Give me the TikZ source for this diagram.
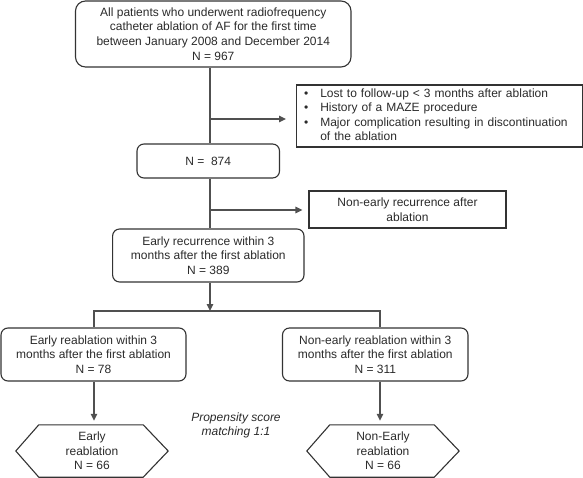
\documentclass[tikz,border=0pt]{standalone}
\usepackage{fontspec}
\setmainfont{Liberation Sans}
\usetikzlibrary{arrows.meta,calc}
\definecolor{txt}{HTML}{2A2A2A}
\definecolor{bd}{HTML}{333333}
\definecolor{ln}{HTML}{505050}
\begin{document}
\begin{tikzpicture}[x=1pt,y=-1pt,
  every node/.style={font=\fontsize{12}{14.6}\selectfont, text=txt},
  rbox/.style={draw=bd, line width=1.1pt, rounded corners=7pt, inner sep=0pt, align=center},
  sbox/.style={draw=bd, line width=1.1pt, inner sep=0pt, align=center},
  conn/.style={draw=ln, line width=1.3pt},
  arr/.style={conn, -{Triangle[length=7pt,width=6.5pt]}},
  hexdraw/.style={draw=bd, line width=1.1pt}
]
\useasboundingbox (0,0) rectangle (583,478);

\node[rbox, rounded corners=10pt, minimum width=275.5pt, minimum height=66pt] (top) at (213.25,34)
  {All patients who underwent radiofrequency\\catheter ablation of AF for the first time\\between January 2008 and December 2014\\N = 967};

\node[draw=bd, line width=1.1pt, anchor=west, inner xsep=8pt, inner ysep=0pt,
      text width=270.5pt, minimum height=62pt, align=left] (excl) at (295.5,116)
  {\begin{tabular}{@{}l@{\hspace{12pt}}l@{}}
   \textbullet & Lost to follow-up < 3 months after ablation\\
   \textbullet & History of a MAZE procedure\\
   \textbullet & Major complication resulting in discontinuation\\
               & of the ablation
   \end{tabular}};

\node[rbox, minimum width=142.5pt, minimum height=34pt] (n874) at (208.25,161) {N = \ 874};

\node[sbox, minimum width=197pt, minimum height=37pt] (nonrec) at (407.5,209.5)
  {Non-early recurrence after\\ablation};

\node[rbox, minimum width=191.4pt, minimum height=53pt] (early) at (208.3,255.5)
  {Early recurrence within 3\\months after the first ablation\\N = 389};

\node[rbox, minimum width=185pt, minimum height=53pt] (left) at (93.5,354.5)
  {Early reablation within 3\\months after the first ablation\\N = 78};

\node[rbox, minimum width=185.5pt, minimum height=53pt] (right) at (375.25,354.5)
  {Non-early reablation within 3\\months after the first ablation\\N = 311};

\node[inner sep=0pt, minimum width=152pt, minimum height=52pt, align=center] (hexL) at (92,451)
  {Early\\reablation\\N = 66};
\node[inner sep=0pt, minimum width=152pt, minimum height=52pt, align=center] (hexR) at (383,451)
  {Non-Early\\reablation\\N = 66};
\draw[hexdraw] (hexL.west) -- ([xshift=23pt]hexL.north west) -- ([xshift=-25pt]hexL.north east)
  -- (hexL.east) -- ([xshift=-25pt]hexL.south east) -- ([xshift=23pt]hexL.south west) -- cycle;
\draw[hexdraw] (hexR.west) -- ([xshift=23pt]hexR.north west) -- ([xshift=-25pt]hexR.north east)
  -- (hexR.east) -- ([xshift=-25pt]hexR.south east) -- ([xshift=23pt]hexR.south west) -- cycle;

\node[align=center, font=\fontsize{12}{14}\selectfont\itshape] (ps) at (236,425)
  {Propensity score\\matching 1:1};

% connectors
\coordinate (spine) at (210,0);
\coordinate (lc) at (94,0);
\coordinate (rc) at (380,0);
\coordinate (j1) at (210,119);
\coordinate (j2) at (210,210);
\coordinate (br) at (210,311);

\draw[conn] (top.south -| spine) -- (n874.north -| spine);
\draw[arr] (j1) -- ($(excl.west |- j1)+(-9.5,0)$);
\draw[conn] (n874.south -| spine) -- (early.north -| spine);
\draw[arr] (j2) -- ($(nonrec.west |- j2)+(-6,0)$);
\draw[arr] (early.south -| spine) -- (br);
\draw[conn] (left.north -| lc) -- (lc |- br) -- (rc |- br) -- (right.north -| rc);
\draw[arr] (left.south -| lc) -- ($(hexL.north -| lc)+(0,-4)$);
\draw[arr] (right.south -| rc) -- ($(hexR.north -| rc)+(0,-4)$);
\end{tikzpicture}
\end{document}
